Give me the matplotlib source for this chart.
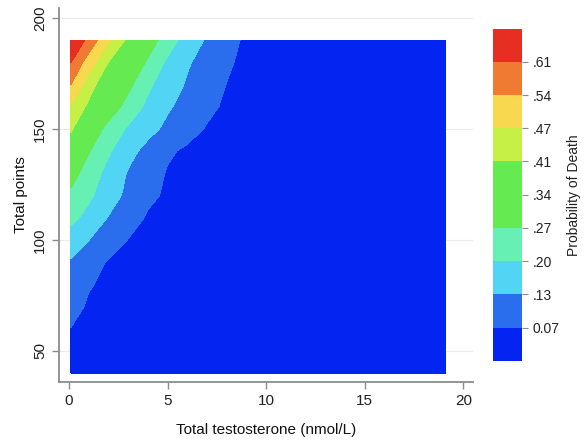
import numpy as np
import matplotlib
matplotlib.use("Agg")
import matplotlib.pyplot as plt

plt.rcParams['font.family'] = ['Liberation Sans', 'DejaVu Sans']

# grid: testosterone (x) by total points (y)
testosterone = [0.1, 1, 2, 3, 4, 5, 6, 7, 8, 9, 10, 19.1]
points = [40, 60, 70, 80, 90, 100, 110, 120, 130, 140, 150, 160, 170, 180, 190]

# probability of death, one row per points value (bottom to top)
death_prob = [
    [0.050, 0.045, 0.040, 0.037, 0.034, 0.031, 0.028, 0.026, 0.024, 0.022, 0.020, 0.008],
    [0.069, 0.058, 0.050, 0.046, 0.042, 0.039, 0.036, 0.033, 0.031, 0.029, 0.027, 0.010],
    [0.088, 0.064, 0.055, 0.050, 0.046, 0.043, 0.040, 0.037, 0.034, 0.032, 0.030, 0.010],
    [0.105, 0.074, 0.060, 0.054, 0.050, 0.046, 0.043, 0.040, 0.037, 0.034, 0.032, 0.010],
    [0.123, 0.093, 0.066, 0.060, 0.055, 0.050, 0.046, 0.042, 0.039, 0.036, 0.033, 0.010],
    [0.165, 0.131, 0.099, 0.069, 0.060, 0.054, 0.048, 0.043, 0.038, 0.034, 0.030, 0.010],
    [0.220, 0.177, 0.127, 0.092, 0.065, 0.058, 0.051, 0.045, 0.040, 0.035, 0.031, 0.010],
    [0.255, 0.214, 0.161, 0.114, 0.079, 0.064, 0.054, 0.047, 0.041, 0.037, 0.032, 0.010],
    [0.300, 0.237, 0.179, 0.125, 0.094, 0.066, 0.056, 0.049, 0.044, 0.039, 0.034, 0.010],
    [0.360, 0.276, 0.209, 0.151, 0.110, 0.077, 0.062, 0.054, 0.048, 0.042, 0.036, 0.010],
    [0.420, 0.326, 0.246, 0.191, 0.150, 0.116, 0.089, 0.066, 0.055, 0.047, 0.038, 0.010],
    [0.460, 0.398, 0.316, 0.243, 0.185, 0.138, 0.108, 0.082, 0.062, 0.050, 0.040, 0.010],
    [0.541, 0.437, 0.363, 0.289, 0.213, 0.163, 0.123, 0.096, 0.069, 0.052, 0.042, 0.010],
    [0.612, 0.505, 0.409, 0.333, 0.260, 0.188, 0.137, 0.106, 0.079, 0.055, 0.045, 0.010],
    [0.680, 0.590, 0.479, 0.396, 0.310, 0.233, 0.171, 0.122, 0.091, 0.060, 0.050, 0.010],
]

levels = [0, 0.07, 0.13, 0.20, 0.27, 0.34, 0.41, 0.47, 0.54, 0.61, 0.70]
level_labels = ['0.07', '.13', '.20', '.27', '.34', '.41', '.47', '.54', '.61']
band_colors = ['#0424f2', '#2a6eee', '#52d4f4', '#66f0b4', '#66ea52',
               '#66ea52', '#c6f046', '#f8d84e', '#f07a32', '#e62e22']

X, Y = np.meshgrid(testosterone, points)
Z = np.array(death_prob)

fig = plt.figure(figsize=(5.85, 4.4), dpi=100)
ax = fig.add_axes([0.101, 0.132, 0.708, 0.850])
cax = fig.add_axes([0.843, 0.180, 0.050, 0.755])

cs = ax.contourf(X, Y, Z, levels=levels, colors=band_colors, zorder=2)

ax.set_xlim(-0.5, 20.5)
ax.set_ylim(36, 204.5)
ax.set_xticks([0, 5, 10, 15, 20])
ax.set_yticks([50, 100, 150, 200])
ax.grid(axis='y', color='#ebebeb', linewidth=0.8, zorder=0)
ax.set_axisbelow(True)

for side in ['top', 'right']:
    ax.spines[side].set_visible(False)
for side in ['left', 'bottom']:
    ax.spines[side].set_color('#8c8c8c')
    ax.spines[side].set_linewidth(1.3)

ax.tick_params(colors='#8c8c8c', labelcolor='#222222', labelsize=11, length=5, width=1)
plt.setp(ax.get_yticklabels(), rotation=90, va='center')
ax.set_xlabel('Total testosterone (nmol/L)', fontsize=11, color='#111111', labelpad=11)
ax.set_ylabel('Total points', fontsize=11, color='#111111', labelpad=4)

cb = fig.colorbar(cs, cax=cax, ticks=levels[1:-1])
cb.ax.set_yticklabels(level_labels)
cb.outline.set_visible(False)
cb.ax.tick_params(labelsize=10, length=4, width=0.8, color='#8c8c8c', labelcolor='#222222')
cb.set_label('Probability of Death', fontsize=10, color='#222222', labelpad=5)

fig.savefig('out.png', dpi=100)
